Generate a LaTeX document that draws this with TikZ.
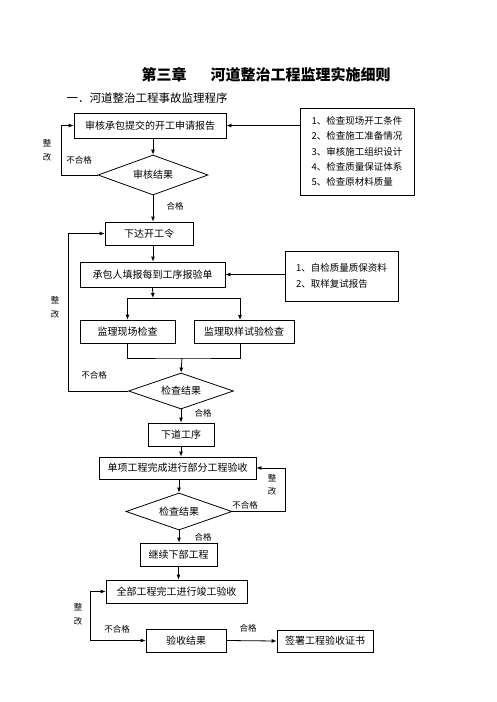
\documentclass[tikz,border=0pt]{standalone}
\usepackage{fontspec}
\newfontfamily\cjk{Noto Sans CJK SC}
\usepackage{tikz}
\usetikzlibrary{arrows.meta,calc,positioning,shapes.geometric}

\tikzset{
  box/.style={draw, rectangle, line width=0.8pt, inner sep=0pt, font=\cjk\fontsize{10}{12}\selectfont},
  choice/.style={draw, diamond, aspect=2.5, line width=0.8pt, inner sep=0pt, font=\cjk\fontsize{10}{12}\selectfont},
  listbox/.style={draw, rectangle, line width=0.8pt, inner sep=0pt, align=left, font=\cjk\fontsize{9.5}{15.3}\selectfont},
  note/.style={align=center, inner sep=0pt, font=\cjk\fontsize{8.5}{14}\selectfont},
  flow/.style={line width=0.8pt, -{Latex[length=5pt,width=4pt]}},
}

\begin{document}
\begin{tikzpicture}[x=1pt,y=-1pt]
        \useasboundingbox (0,0) rectangle (496,702);

        \node[font=\cjk\bfseries\fontsize{15}{18}\selectfont] (title) at (266,75) {第三章\hspace{24pt}河道整治工程监理实施细则};
        \node[anchor=west, font=\cjk\fontsize{11.5}{14}\selectfont] (subtitle) at (63,98) {一．河道整治工程事故监理程序};

        \coordinate (x1) at (150,125.5);
        \coordinate (x2) at (153,175);
        \coordinate (x3) at (149,233.5);
        \coordinate (x4) at (152.5,274.5);
        \coordinate (x5) at (127.5,331.5);
        \coordinate (x6) at (244,331.5);
        \coordinate (x7) at (181,391);
        \coordinate (x8) at (181,434.5);
        \coordinate (x9) at (177.5,468);
        \coordinate (x10) at (179,511.5);
        \coordinate (x11) at (178.5,554.5);
        \coordinate (x12) at (176.5,591.5);
        \coordinate (x13) at (186,640.5);
        \coordinate (x14) at (325,641);

        \node[box, minimum width=152pt, minimum height=25pt] (nodex1) at (x1) {审核承包提交的开工申请报告};
        \node[choice, minimum width=110pt, minimum height=40pt] (nodex2) at (x2) {审核结果};
        \node[box, minimum width=88pt, minimum height=23pt] (nodex3) at (x3) {下达开工令};
        \node[box, minimum width=145pt, minimum height=25pt] (nodex4) at (x4) {承包人填报每到工序报验单};
        \node[box, minimum width=95pt, minimum height=23pt] (nodex5) at (x5) {监理现场检查};
        \node[box, minimum width=100pt, minimum height=23pt] (nodex6) at (x6) {监理取样试验检查};
        \node[choice, minimum width=105pt, minimum height=36pt] (nodex7) at (x7) {检查结果};
        \node[box, minimum width=66pt, minimum height=23pt] (nodex8) at (x8) {下道工序};
        \node[box, minimum width=157pt, minimum height=22pt] (nodex9) at (x9) {单项工程完成进行部分工程验收};
        \node[choice, minimum width=106pt, minimum height=37pt] (nodex10) at (x10) {检查结果};
        \node[box, minimum width=77pt, minimum height=23pt] (nodex11) at (x11) {继续下部工程};
        \node[box, minimum width=141pt, minimum height=23pt] (nodex12) at (x12) {全部工程完工进行竣工验收};
        \node[box, minimum width=80pt, minimum height=23pt] (nodex13) at (x13) {验收结果};
        \node[box, minimum width=96pt, minimum height=22pt] (nodex14) at (x14) {签署工程验收证书};

        \node[listbox, minimum width=114pt, minimum height=87pt] (listA) at (357,151.5) {1、检查现场开工条件\\2、检查施工准备情况\\3、审核施工组织设计\\4、检查质量保证体系\\5、检查原材料质量};
        \node[listbox, minimum width=113pt, minimum height=50pt] (listB) at (341.5,276) {1、自检质量质保资料\\2、取样复试报告};

        \coordinate (fix1) at (61,175);
        \coordinate (fix2) at (68,391);
        \coordinate (fix3) at (285,511.5);
        \coordinate (fix4) at (90,640.5);
        \coordinate (split) at (153,298);
        \coordinate (labin) at (240,320);
        \coordinate (labout) at (240,343);
        \coordinate (merge) at (182,358);

        \draw[flow] (nodex1.east -| listA.west) -- (nodex1.east);
        \draw[flow] (nodex1.south -| nodex2.north) -- (nodex2.north);
        \draw[flow] (nodex2.west) -- (fix1) |- (nodex1.west);
        \draw[flow] (nodex2.south) -- (nodex2.south |- nodex3.north);
        \draw[flow] (nodex2.south |- nodex3.south) -- (nodex2.south |- nodex4.north);
        \draw[flow] (nodex4.east -| listB.west) -- (nodex4.east);
        \draw[flow] (nodex4.south) -- (split);
        \draw[flow] (split) -| (nodex5.north);
        \draw[flow] (split) -| (labin);
        \draw[line width=0.8pt] (nodex5.south) |- (merge) -| (labout);
        \draw[flow] (merge) -- (nodex7.north);
        \draw[flow] (nodex7.west) -- (fix2) |- (nodex3.west);
        \draw[flow] (nodex7.south) -- (nodex8.north);
        \draw[flow] (nodex8.south) -- (nodex8.south |- nodex9.north);
        \draw[flow] (nodex10.north |- nodex9.south) -- (nodex10.north);
        \draw[flow] (nodex10.east) -- (fix3) |- (nodex9.east);
        \draw[flow] (nodex10.south) -- (nodex10.south |- nodex11.north);
        \draw[flow] (nodex11.south) -- (nodex11.south |- nodex12.north);
        \draw[flow] (nodex13.east) -- (nodex14.west);
        \draw[flow, {Latex[length=5pt,width=4pt]}-{Latex[length=5pt,width=4pt]}] (nodex13.west) -- (fix4) |- (nodex12.west);

        \node[note] (fixA) at (47,150.5) {整\\改};
        \node[note] (failA) at (79,160) {不合格};
        \node[note] (passA) at (175,206) {合格};
        \node[note] (fixB) at (55,307.5) {整\\改};
        \node[note] (failB) at (94,375) {不合格};
        \node[note] (passB) at (203,413) {合格};
        \node[note, font=\cjk\fontsize{8.5}{13}\selectfont] (fixC) at (272,484.5) {整\\改};
        \node[note] (failC) at (245,505) {不合格};
        \node[note] (passC) at (203,537) {合格};
        \node[note] (fixD) at (78,614.5) {整\\改};
        \node[note] (failD) at (117,629) {不合格};
        \node[note] (passD) at (248,628) {合格};
    \end{tikzpicture}
\end{document}
